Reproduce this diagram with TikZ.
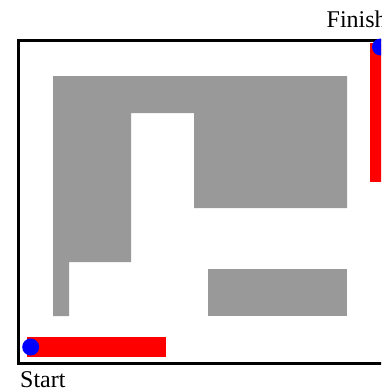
\documentclass[tikz,border=0pt]{standalone}
\usepackage{fontspec}
\setmainfont{Liberation Serif}
\definecolor{mazegray}{RGB}{153,153,153}
\definecolor{pathred}{RGB}{255,0,0}
\definecolor{dotblue}{RGB}{0,0,255}
\tikzset{
  wall/.style={fill=mazegray, draw=none},
  route/.style={fill=pathred, draw=none},
  dot/.style={fill=dotblue, draw=none},
  frame/.style={draw=black, line width=3pt},
  label/.style={inner sep=0pt, anchor=base west, font=\fontsize{24}{28}\selectfont}
}
\begin{document}
\begin{tikzpicture}[x=1pt,y=-1pt]
\useasboundingbox (0,0) rectangle (381,391);
\clip (0,0) rectangle (381,391);
% outer frame
\draw[frame] (18.5,40.5) rectangle (393,363.5);
% gray walls
\fill[wall] (53,76) -- (347,76) -- (347,208) -- (194,208) -- (194,113) -- (131,113)
  -- (131,262) -- (69,262) -- (69,316) -- (53,316) -- cycle;
\fill[wall] (208,269) rectangle (347,316);
% routes
\fill[route] (27,337) rectangle (166,357);
\fill[route] (370,43) rectangle (391,182);
\fill[dot] (30.7,347) circle (8.5);
\fill[dot] (380.5,47) circle (8.5);
% labels
\node[label] (finish) at (326.5,27.3) {Finish};
\node[label] (start) at (20,387.7) {Start};
\end{tikzpicture}
\end{document}
